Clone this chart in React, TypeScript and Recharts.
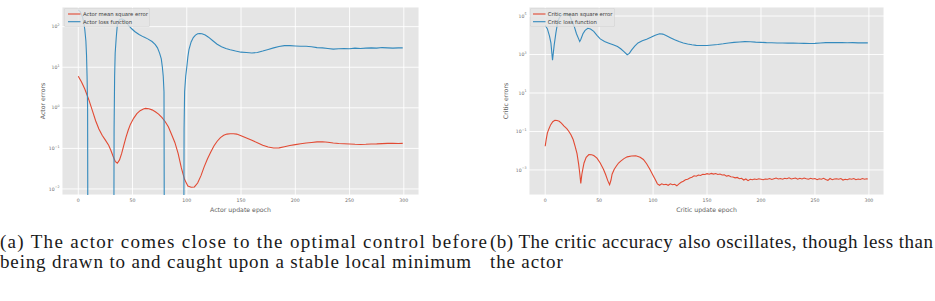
import React from "react";
import { LineChart, Line, XAxis, YAxis, CartesianGrid } from "recharts";

const RED = "#E24A33";
const BLUE = "#348ABD";
const PANEL_BG = "#E5E5E5";
const TICK_COLOR = "#6e6e6e";
const SANS = "'DejaVu Sans', sans-serif";
const SERIF = "'Liberation Serif', serif";

// Negative loss values cannot sit on a log axis; they are clamped far below the floor
const BELOW_AXIS = 1e-6;

const epochTicks = [0, 50, 100, 150, 200, 250, 300];
const actorDecadeTicks = [1e-2, 1e-1, 1, 10, 100];
const criticDecadeTicks = [1e-3, 1e-1, 10, 1e3, 1e5];

const actorLegend = ["Actor mean square error", "Actor loss function"];
const criticLegend = ["Critic mean square error", "Critic loss function"];

// ---- Actor mean square error ----
const actorMseEpochs = [
  0, 3, 6, 8, 10, 13, 16, 19, 22, 25,
  28, 30, 32, 34, 36, 38, 40, 42, 44, 46,
  48, 51, 54, 57, 60, 62, 65, 68, 71, 74,
  77, 80, 83, 86, 89, 92, 95, 98, 101, 104,
  107, 110, 113, 116, 119, 122, 125, 128, 131, 134,
  137, 140, 143, 146, 150, 155, 160, 165, 170, 175,
  180, 185, 190, 195, 200, 205, 210, 215, 220, 225,
  230, 235, 240, 245, 250, 255, 260, 265, 270, 275,
  280, 285, 290, 295, 299,
];
const actorMseValues = [
  6.0, 4.3, 2.9, 2.1, 1.5, 0.85, 0.48, 0.3, 0.21, 0.16,
  0.12, 0.09, 0.065, 0.048, 0.043, 0.052, 0.075, 0.12, 0.19, 0.28,
  0.39, 0.55, 0.72, 0.85, 0.94, 0.97, 0.95, 0.89, 0.8, 0.7,
  0.58, 0.46, 0.34, 0.22, 0.14, 0.075, 0.033, 0.017, 0.0118, 0.011,
  0.0112, 0.014, 0.021, 0.035, 0.055, 0.08, 0.115, 0.15, 0.185, 0.21,
  0.225, 0.23, 0.23, 0.225, 0.205, 0.18, 0.158, 0.138, 0.12, 0.108,
  0.102, 0.103, 0.11, 0.118, 0.124, 0.13, 0.136, 0.14, 0.145, 0.146,
  0.142, 0.136, 0.132, 0.13, 0.128, 0.126, 0.125, 0.126, 0.128, 0.129,
  0.131, 0.133, 0.134, 0.132, 0.133,
];

// ---- Actor loss function ----
const actorLossEpochs = [
  0, 2, 4, 5, 6, 7, 7.6, 8.1, 8.6, 9,
  20, 32.6, 33, 33.5, 34, 35, 36, 38, 40, 42,
  44, 46, 49, 52, 56, 60, 64, 68, 71, 73,
  75, 76.5, 77.5, 78.3, 79, 79.5, 88, 97, 97.5, 98,
  99, 100, 101, 102, 104, 106, 108, 110, 112, 114,
  117, 120, 124, 128, 132, 136, 140, 145, 150, 155,
  160, 165, 170, 175, 180, 185, 190, 195, 200, 205,
  210, 215, 220, 225, 230, 235, 240, 245, 250, 255,
  260, 265, 270, 275, 280, 285, 290, 295, 299,
];
const actorLossValues = [
  260, 230, 170, 130, 85, 45, 20, 6, 1, BELOW_AXIS,
  BELOW_AXIS, BELOW_AXIS, 0.3, 6, 22, 55, 110, 150, 155, 148,
  130, 110, 90, 76, 64, 56, 50, 43, 36, 30,
  22, 16, 10, 6, 2.5, BELOW_AXIS, BELOW_AXIS, BELOW_AXIS, 0.3, 2.5,
  6, 10, 18, 27, 42, 54, 62, 67, 68, 67,
  62, 55, 45, 37, 32, 29, 27, 25, 23.5, 23,
  22.5, 23, 25, 27.5, 30, 32.5, 34, 34, 33.5, 33,
  33, 32, 30.5, 30, 29, 28, 28.5, 29, 28.5, 29.5,
  29, 29.5, 30, 29.5, 30.5, 30, 29.5, 30, 30,
];

// ---- Critic mean square error ----
const criticMseEpochs = [
  0, 1, 2, 3.5, 5, 7, 9, 11, 13, 15,
  17.5, 20, 22, 24, 26, 28, 29.5, 31, 32, 33,
  34, 35, 36, 38, 40.5, 43, 45, 48, 51, 54,
  56, 58, 59.7, 61, 62, 64, 66, 68, 70, 73,
  76, 80, 84, 88, 91, 94, 97, 100, 102, 104,
  106, 108, 110, 112, 114, 116, 118, 120, 122, 124,
  126, 128, 130, 132, 134, 136, 138, 140, 142, 144,
  146, 148, 150, 152, 154, 156, 158, 160, 162, 164,
  166, 168, 170, 172, 174, 176, 178, 180, 182, 184,
  186, 188, 190, 192, 194, 196, 198, 200, 202, 204,
  206, 208, 210, 212, 214, 216, 218, 220, 222, 224,
  226, 228, 230, 232, 234, 236, 238, 240, 242, 244,
  246, 248, 250, 252, 254, 256, 258, 260, 262, 264,
  266, 268, 270, 272, 274, 276, 278, 280, 282, 284,
  286, 288, 290, 292, 294, 296, 298, 299,
];
const criticMseValues = [
  0.017, 0.04, 0.083, 0.14, 0.22, 0.32, 0.38, 0.37, 0.34, 0.27,
  0.19, 0.14, 0.1, 0.065, 0.037, 0.015, 0.007, 0.002, 0.0007, 0.0002,
  0.0006, 0.0012, 0.0023, 0.0045, 0.0063, 0.0062, 0.0056, 0.0041, 0.0023, 0.0011,
  0.00058, 0.00028, 0.00017, 0.0003, 0.0006, 0.0011, 0.0016, 0.0023, 0.0029, 0.0039,
  0.0048, 0.0053, 0.0055, 0.0046, 0.0035, 0.0021, 0.0011, 0.00052, 0.00032, 0.00019,
  0.00016, 0.00019, 0.00017, 0.00018, 0.00016, 0.00019, 0.00017, 0.00018, 0.00015, 0.00019,
  0.00023, 0.00026, 0.00031, 0.00033, 0.00038, 0.00042, 0.0005, 0.00047, 0.00055, 0.00052,
  0.0006, 0.00058, 0.00064, 0.0006, 0.00066, 0.00061, 0.00065, 0.00058, 0.00062, 0.00055,
  0.00056, 0.00048, 0.00051, 0.00044, 0.00043, 0.00039, 0.00041, 0.00035, 0.00037, 0.0003,
  0.00034, 0.00028, 0.00033, 0.00031, 0.00034, 0.00032, 0.00035, 0.00033, 0.00031, 0.00034,
  0.00033, 0.00036, 0.00032, 0.00035, 0.00038, 0.00034, 0.00036, 0.00033, 0.00037, 0.00035,
  0.00039, 0.00034, 0.00036, 0.00038, 0.00033, 0.00037, 0.00034, 0.00038, 0.00035, 0.00033,
  0.00037, 0.00034, 0.00036, 0.00031, 0.00035, 0.00033, 0.00037, 0.00032, 0.00029, 0.00036,
  0.00031, 0.00034, 0.00035, 0.00033, 0.00036, 0.0003, 0.00033, 0.00031, 0.00035, 0.00033,
  0.00036, 0.00031, 0.00034, 0.00032, 0.00036, 0.00033, 0.00035, 0.00034,
];

// ---- Critic loss function ----
const criticLossEpochs = [
  0, 2, 4, 5.3, 6.8, 8.3, 9.9, 11.5, 13, 15,
  18, 21, 23, 25, 27, 29, 31, 32, 33, 35,
  37, 39.5, 42, 45, 48, 51, 55, 59, 63, 67,
  70, 73, 76, 78, 80, 83, 86, 90, 94, 98,
  102, 106, 109, 112, 116, 120, 124, 128, 132, 136,
  140, 145, 150, 155, 160, 165, 170, 175, 180, 185,
  190, 195, 200, 205, 210, 215, 220, 225, 230, 235,
  240, 245, 250, 255, 260, 265, 270, 275, 280, 285,
  290, 295, 299,
];
const criticLossValues = [
  32000, 22000, 9000, 4000, 500, 3000, 13000, 45000, 80000, 110000,
  130000, 120000, 100000, 50000, 28000, 12000, 6500, 4800, 6000, 12000,
  18000, 23000, 21000, 16000, 10000, 6500, 4800, 3900, 3200, 2600,
  2000, 1400, 980, 1150, 1700, 2700, 4000, 5200, 6300, 7800,
  10000, 12000, 11500, 9800, 7500, 5800, 4700, 4000, 3500, 3200,
  3000, 2950, 2950, 3100, 3300, 3600, 4000, 4300, 4500, 4700,
  4600, 4400, 4300, 4150, 4100, 4000, 3950, 3900, 3950, 3850,
  3800, 3750, 3800, 4000, 4150, 4200, 4150, 4200, 4100, 4150,
  4050, 4100, 4050,
];

type Pt = { epoch: number; v: number };
const pair = (xs: number[], ys: number[]): Pt[] =>
  xs.map((e, i) => ({ epoch: e, v: ys[i] }));

const actorMse = pair(actorMseEpochs, actorMseValues);
const actorLoss = pair(actorLossEpochs, actorLossValues);
const criticMse = pair(criticMseEpochs, criticMseValues);
const criticLoss = pair(criticLossEpochs, criticLossValues);

const CHART_H = 220;
const PLOT_TOP = 7;
const X_AXIS_H = 25;
const Y_AXIS_W = 62;

const EpochTick = (props: any) => {
  const { x, y, payload } = props;
  return (
    <text
      x={x}
      y={y + 3.8}
      textAnchor="middle"
      dominantBaseline="central"
      fontSize={4.7}
      fill={TICK_COLOR}
      fontFamily={SANS}
    >
      {payload.value}
    </text>
  );
};

const DecadeTick = (props: any) => {
  const { x, y, payload } = props;
  const exp = Math.round(Math.log10(payload.value));
  const sup = exp < 0 ? `\u2212${-exp}` : `${exp}`;
  return (
    <text
      x={x - 0.5}
      y={y + 1.6}
      textAnchor="end"
      fontSize={4.6}
      fill={TICK_COLOR}
      fontFamily={SANS}
    >
      <tspan>10</tspan>
      <tspan fontSize={3.3} dy={-2.2}>
        {sup}
      </tspan>
    </text>
  );
};

const XTitle = (props: any) => (
  <text
    x={props.cx}
    y={props.cy}
    textAnchor="middle"
    dominantBaseline="central"
    fontSize={6.2}
    fill="#5e5e5e"
    fontFamily={SANS}
  >
    {props.labelText}
  </text>
);

const YTitle = (props: any) => (
  <text
    x={props.cx}
    y={props.cy}
    transform={`rotate(-90 ${props.cx} ${props.cy})`}
    textAnchor="middle"
    dominantBaseline="central"
    fontSize={6.2}
    fill="#5e5e5e"
    fontFamily={SANS}
  >
    {props.labelText}
  </text>
);

type PanelProps = {
  left: number;
  width: number;
  marginRight: number;
  yDomain: [number, number];
  yTicks: number[];
  yTitle: string;
  yTitleX: number;
  xTitle: string;
  mse: Pt[];
  loss: Pt[];
};

function Panel(p: PanelProps) {
  const plotRight = p.width - p.marginRight;
  const xCenter = (Y_AXIS_W + plotRight) / 2;
  const yCenter = (PLOT_TOP + CHART_H - X_AXIS_H) / 2;
  return (
    <div style={{ position: "absolute", left: p.left, top: 0 }}>
      <LineChart
        width={p.width}
        height={CHART_H}
        margin={{ top: PLOT_TOP, right: p.marginRight, bottom: 0, left: 0 }}
      >
        <CartesianGrid fill={PANEL_BG} stroke="#ffffff" strokeWidth={0.9} />
        <XAxis
          type="number"
          dataKey="epoch"
          domain={[-15, 314]}
          ticks={epochTicks}
          interval={0}
          allowDataOverflow
          height={X_AXIS_H}
          axisLine={false}
          tickLine={false}
          tickSize={0}
          tickMargin={2}
          tick={<EpochTick />}
          label={<XTitle labelText={p.xTitle} cx={xCenter} cy={209.5} />}
        />
        <YAxis
          type="number"
          scale="log"
          domain={p.yDomain}
          ticks={p.yTicks}
          interval={0}
          allowDataOverflow
          width={Y_AXIS_W}
          axisLine={false}
          tickLine={false}
          tickSize={0}
          tickMargin={2}
          tick={<DecadeTick />}
          label={<YTitle labelText={p.yTitle} cx={p.yTitleX} cy={yCenter} />}
        />
        <Line
          data={p.mse}
          dataKey="v"
          type="linear"
          stroke={RED}
          strokeWidth={1.1}
          dot={false}
          activeDot={false}
          isAnimationActive={false}
        />
        <Line
          data={p.loss}
          dataKey="v"
          type="linear"
          stroke={BLUE}
          strokeWidth={1.1}
          dot={false}
          activeDot={false}
          isAnimationActive={false}
        />
      </LineChart>
    </div>
  );
}

function LegendBox(props: {
  x: number;
  w: number;
  handleX: number;
  textX: number;
  labels: string[];
}) {
  const h = 19;
  const rows = [6, 13.7];
  const colors = [RED, BLUE];
  return (
    <svg
      width={props.w}
      height={h}
      style={{ position: "absolute", left: props.x, top: 8 }}
    >
      <rect
        x={0.3}
        y={0.3}
        width={props.w - 0.6}
        height={h - 0.6}
        rx={1.5}
        fill="rgba(229,229,229,0.8)"
        stroke="rgba(204,204,204,0.8)"
        strokeWidth={0.6}
      />
      {props.labels.map((label, i) => (
        <g key={label}>
          <line
            x1={props.handleX}
            x2={props.handleX + 12.5}
            y1={rows[i]}
            y2={rows[i]}
            stroke={colors[i]}
            strokeWidth={1.1}
          />
          <text
            x={props.textX}
            y={rows[i]}
            dominantBaseline="central"
            fontSize={5.3}
            fill="#3a3a3a"
            fontFamily={SANS}
          >
            {label}
          </text>
        </g>
      ))}
    </svg>
  );
}

export default function App() {
  return (
    <div
      style={{
        position: "absolute",
        left: 0,
        top: 0,
        width: 935,
        height: 301,
        background: "#ffffff",
        overflow: "hidden",
      }}
    >
      <Panel
        left={0}
        width={440}
        marginRight={21}
        yDomain={[0.0071, 305]}
        yTicks={actorDecadeTicks}
        yTitle="Actor errors"
        yTitleX={42}
        xTitle="Actor update epoch"
        mse={actorMse}
        loss={actorLoss}
      />
      <Panel
        left={467}
        width={440}
        marginRight={23}
        yDomain={[5.0e-5, 2.95e5]}
        yTicks={criticDecadeTicks}
        yTitle="Critic errors"
        yTitleX={38}
        xTitle="Critic update epoch"
        mse={criticMse}
        loss={criticLoss}
      />
      <LegendBox x={64} w={86} handleX={4} textX={19} labels={actorLegend} />
      <LegendBox x={530} w={85} handleX={3} textX={17.7} labels={criticLegend} />
      <svg
        width={935}
        height={301}
        style={{ position: "absolute", left: 0, top: 0, pointerEvents: "none" }}
      >
        <g fontFamily={SERIF} fontSize={19} fill="#1a1a1a">
          <text x={0} y={248} textLength={487} lengthAdjust="spacing">
            (a) The actor comes close to the optimal control before
          </text>
          <text x={490} y={248} textLength={443} lengthAdjust="spacing">
            (b) The critic accuracy also oscillates, though less than
          </text>
          <text x={0} y={268} letterSpacing={0.85}>
            being drawn to and caught upon a stable local minimum
          </text>
          <text x={490} y={268} letterSpacing={0.85}>
            the actor
          </text>
        </g>
      </svg>
    </div>
  );
}
